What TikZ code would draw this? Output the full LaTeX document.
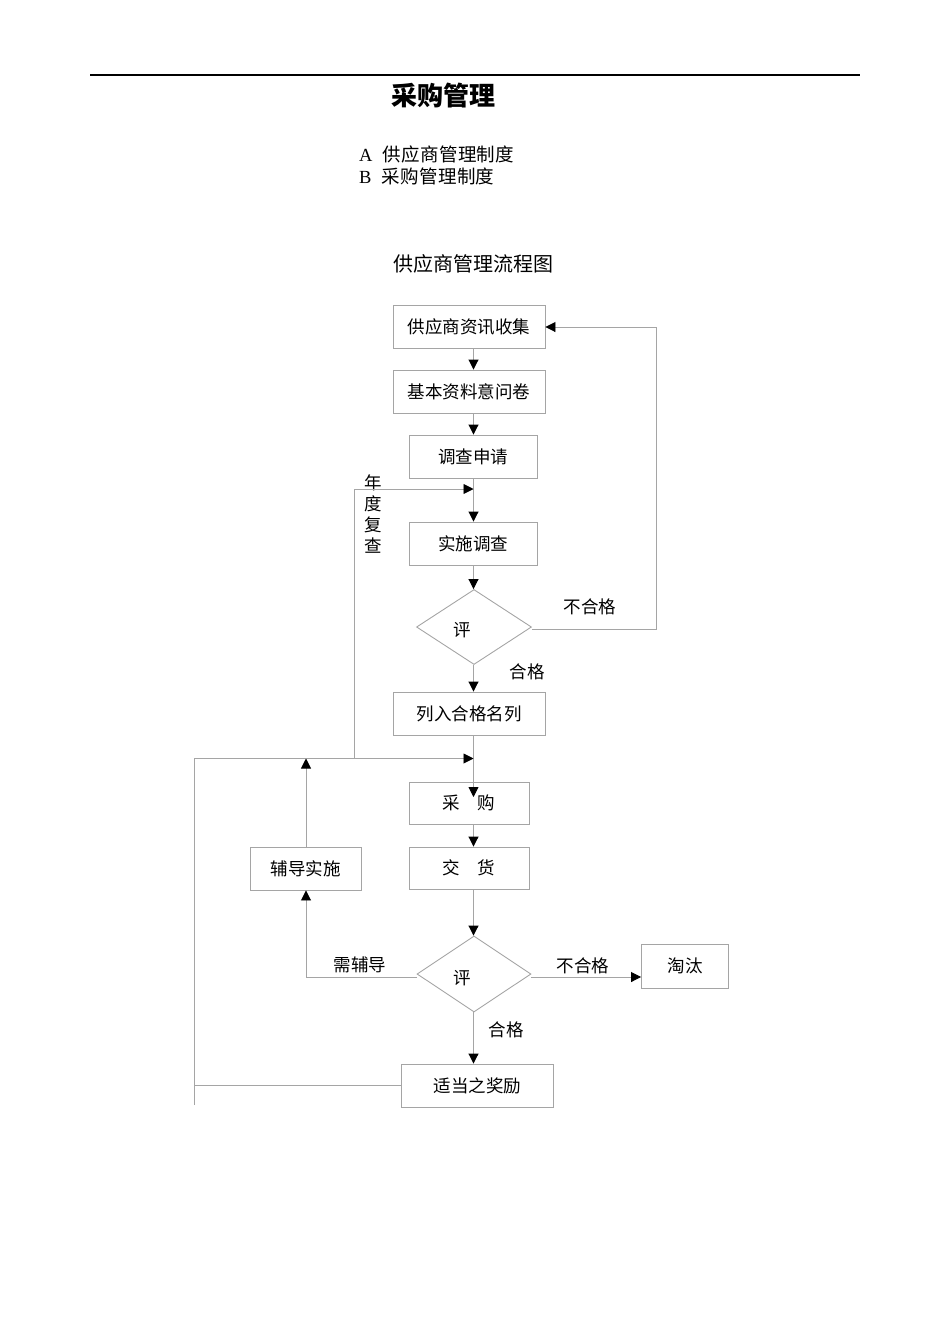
\documentclass[tikz,border=0pt]{standalone}
\usepackage{fontspec}
\setmainfont{Liberation Serif}
\newfontfamily\cjk{Noto Sans CJK SC}
\newfontfamily\cjkwide[LetterSpace=2]{Noto Sans CJK SC}
\usetikzlibrary{arrows.meta,shapes.geometric}
\definecolor{lc}{RGB}{165,165,165}
\begin{document}
\begin{tikzpicture}[x=1pt,y=-1pt,
  every node/.style={font=\cjk\fontsize{17.5}{20.5}\selectfont, text=black},
  box/.style={draw=lc, line width=0.9pt, inner sep=0pt, minimum height=43pt},
  dia/.style={diamond, draw=lc, line width=0.9pt, inner sep=0pt, minimum width=115pt, minimum height=75pt},
  ln/.style={draw=lc, line width=0.9pt},
  arr/.style={ln, -{Triangle[length=10pt,width=10pt,color=black]}},
  lbl/.style={inner sep=0pt},
]
\useasboundingbox (0,0) rectangle (950,1344);
% header
\coordinate (r1) at (90,75);
\coordinate (r2) at (860,75);
\draw[line width=2pt] (r1) -- (r2);
\node[font=\cjk\bfseries\fontsize{26}{30}\selectfont] (title) at (443,96) {采购管理};
\node[anchor=west, lbl, font=\fontsize{18.5}{22}\selectfont] (la) at (359,154) {A\hspace{10pt}{\cjkwide 供应商管理制度}};
\node[anchor=west, lbl, font=\fontsize{18.5}{22}\selectfont] (lbb) at (359,176) {B\hspace{10pt}{\cjkwide 采购管理制度}};
\node[anchor=west, lbl, font=\cjk\fontsize{20}{24}\selectfont] (ft) at (393,264) {供应商管理流程图};
% nodes
\node[box, minimum width=152pt] (b1) at (469,327) {供应商资讯收集};
\node[box, minimum width=152pt] (b2) at (469,391.5) {基本资料意问卷};
\node[box, minimum width=128pt] (b3) at (473,456.5) {调查申请};
\node[box, minimum width=128pt] (b4) at (473,543.5) {实施调查};
\node[dia] (d1) at (474,627) {};
\node[lbl] (t1) at (462,630) {评};
\node[box, minimum width=152pt] (b5) at (469,713.5) {列入合格名列};
\node[box, minimum width=120pt, minimum height=42pt] (b6) at (469,803) {采\hspace{1em}购};
\node[box, minimum width=120pt, minimum height=42pt] (b7) at (469,868) {交\hspace{1em}货};
\node[box, minimum width=111pt] (b8) at (305.5,868.5) {辅导实施};
\node[dia, minimum width=114pt, minimum height=76pt] (d2) at (474,974) {};
\node[lbl] (t2) at (462,978) {评};
\node[box, minimum width=87pt, minimum height=44pt] (b9) at (685,966) {淘汰};
\node[box, minimum width=152pt] (b10) at (477.5,1085.5) {适当之奖励};
% labels
\node[lbl] (n1) at (590,607) {不合格};
\node[lbl] (n2) at (527,672) {合格};
\node[lbl, align=center, font=\cjk\fontsize{17.5}{21}\selectfont] (n3) at (373,514) {年\\度\\复\\查};
\node[lbl] (n4) at (360,965) {需辅导};
\node[lbl] (n5) at (583,966) {不合格};
\node[lbl] (n6) at (506,1030) {合格};
% helper coordinates
\coordinate (mx) at (473.5,0);
\coordinate (fr) at (656.5,0);
\coordinate (y1) at (0,629);
\coordinate (ya) at (0,489);
\coordinate (xa) at (354,0);
\coordinate (yb) at (0,758.5);
\coordinate (xl) at (194,0);
\coordinate (y2) at (0,977);
\coordinate (xg) at (306,0);
\coordinate (tip6) at (473.5,797);
\coordinate (lend) at (194,1105);
% main flow
\draw[arr] (b1.south -| mx) -- (b2.north -| mx);
\draw[arr] (b2.south -| mx) -- (b3.north -| mx);
\draw[arr] (b3.south -| mx) -- (b4.north -| mx);
\draw[arr] (b4.south -| mx) -- (d1.north -| mx);
\draw[arr] (d1.south -| mx) -- (b5.north -| mx);
\draw[arr] (b5.south -| mx) -- (tip6);
\draw[arr] (b6.south -| mx) -- (b7.north -| mx);
\draw[arr] (b7.south -| mx) -- (d2.north -| mx);
\draw[arr] (d2.south -| mx) -- (b10.north -| mx);
% feedback 不合格
\draw[arr] (d1.east |- y1) -- (fr |- y1) -- (fr |- b1.east) -- (b1.east);
% annual review loop
\draw[ln] (b10.west) -- (xl |- b10.west);
\draw[arr] (lend) -- (xl |- yb) -- (mx |- yb);
\draw[arr] (xa |- yb) -- (xa |- ya) -- (mx |- ya);
% guidance
\draw[arr] (d2.west |- y2) -- (xg |- y2) -- (b8.south -| xg);
\draw[arr] (b8.north -| xg) -- (xg |- yb);
% eliminate
\draw[arr] (d2.east |- y2) -- (b9.west |- y2);
\end{tikzpicture}
\end{document}
